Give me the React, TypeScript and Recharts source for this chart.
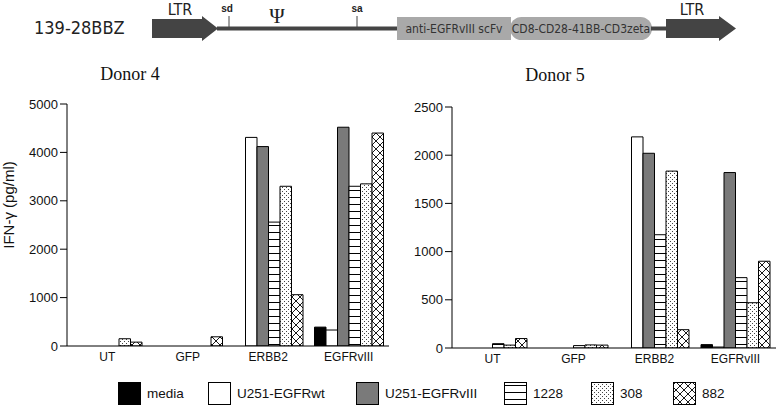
import React from 'react';
import { BarChart, Bar, XAxis, YAxis } from 'recharts';

const categories = ['UT', 'GFP', 'ERBB2', 'EGFRvIII'];
const seriesNames = ['media', 'U251-EGFRwt', 'U251-EGFRvIII', '1228', '308', '882'];
const seriesKeys = ['media', 'wt', 'viii', 's1228', 's308', 's882'];

// Donor 4
const media4 = [0, 0, 0, 390];
const wt4 = [0, 0, 4310, 330];
const viii4 = [0, 0, 4120, 4520];
const s1228_4 = [0, 0, 2560, 3300];
const s308_4 = [150, 0, 3300, 3350];
const s882_4 = [80, 190, 1060, 4400];

// Donor 5
const media5 = [0, 0, 0, 35];
const wt5 = [0, 0, 2190, 10];
const viii5 = [0, 0, 2020, 1820];
const s1228_5 = [45, 25, 1175, 730];
const s308_5 = [30, 32, 1835, 470];
const s882_5 = [98, 30, 190, 900];

const ticks4 = [0, 1000, 2000, 3000, 4000, 5000];
const ticks5 = [0, 500, 1000, 1500, 2000, 2500];

const fills = ['#000', '#fff', '#7a7a7a', 'url(#pat1228)', 'url(#pat308)', 'url(#pat882)'];

function buildRows(cols: number[][]) {
  return categories.map((cat, i) => {
    const row: Record<string, string | number> = { cat };
    seriesKeys.forEach((k, j) => {
      row[k] = cols[j][i];
    });
    return row;
  });
}

const donor4 = buildRows([media4, wt4, viii4, s1228_4, s308_4, s882_4]);
const donor5 = buildRows([media5, wt5, viii5, s1228_5, s308_5, s882_5]);

const sans = '"Liberation Sans", Arial, Helvetica, sans-serif';
const narrow = '"Liberation Sans Narrow", "DejaVu Sans Condensed", sans-serif';
const serif = '"Liberation Serif", "Times New Roman", serif';

const tickStyle = { fontSize: 13, fill: '#111', fontFamily: sans };
const catStyle = { fontSize: 12, fill: '#111', fontFamily: sans };

function Patterns() {
  return (
    <defs>
      <pattern id="pat1228" width="8" height="7" patternUnits="userSpaceOnUse">
        <rect width="8" height="7" fill="#fff" />
        <line x1="0" y1="0.5" x2="8" y2="0.5" stroke="#000" strokeWidth="1" />
      </pattern>
      <pattern id="pat308" width="4" height="4" patternUnits="userSpaceOnUse">
        <rect width="4" height="4" fill="#fff" />
        <rect x="0" y="0" width="1" height="1" fill="#444" />
        <rect x="2" y="2" width="1" height="1" fill="#444" />
      </pattern>
      <pattern id="pat882" width="8" height="8" patternUnits="userSpaceOnUse">
        <rect width="8" height="8" fill="#fff" />
        <path d="M0,0 L8,8 M8,0 L0,8" stroke="#000" strokeWidth="0.9" />
      </pattern>
    </defs>
  );
}

function Construct() {
  const dark = '#444';
  const box = '#a9a9a9';
  return (
    <svg width={777} height={50} style={{ position: 'absolute', left: 0, top: 0 }}>
      <Patterns />
      <text x={34} y={34} fontFamily={narrow} fontSize={18} fill="#222">139-28BBZ</text>
      <text x={180} y={15} fontFamily={narrow} fontSize={16} fill="#222" textAnchor="middle">LTR</text>
      <text x={692} y={15} fontFamily={narrow} fontSize={16} fill="#222" textAnchor="middle">LTR</text>
      <polygon points="152,19 202,19 202,16 218,28.5 202,41 202,38 152,38" fill={dark} />
      <rect x={217} y={26.5} width={181} height={4} fill={dark} />
      <line x1={229} y1={16} x2={229} y2={27} stroke={dark} strokeWidth={1} />
      <text x={227} y={12} fontFamily={sans} fontWeight="bold" fontSize={10} fill="#222" textAnchor="middle">sd</text>
      <text x={277} y={23} fontFamily={serif} fontSize={21} fill="#222" textAnchor="middle">Ψ</text>
      <line x1={357} y1={16} x2={357} y2={27} stroke={dark} strokeWidth={1} />
      <text x={357} y={12} fontFamily={sans} fontWeight="bold" fontSize={10} fill="#222" textAnchor="middle">sa</text>
      <rect x={397} y={17} width={114} height={23} fill={box} />
      <text x={454} y={33} fontFamily={narrow} fontSize={12} fill="#333" textAnchor="middle">anti-EGFRvIII scFv</text>
      <rect x={510} y={17} width={142} height={23} rx={11.5} ry={11.5} fill={box} />
      <text x={581} y={33} fontFamily={narrow} fontSize={12} fill="#333" textAnchor="middle">CD8-CD28-41BB-CD3zeta</text>
      <rect x={651} y={26.5} width={16} height={4} fill={dark} />
      <polygon points="666,19 719,19 719,16 736,28.5 719,41 719,38 666,38" fill={dark} />
    </svg>
  );
}

function DonorChart({ data, ticks, yMax, width, yWidth, top, right, xHeight }: any) {
  return (
    <BarChart
      width={width}
      height={285}
      data={data}
      margin={{ top, right, left: 0, bottom: 0 }}
      barGap={0}
      barSize={11.5}
    >
      <XAxis
        dataKey="cat"
        height={xHeight}
        tickLine={false}
        tickSize={4}
        tickMargin={2}
        axisLine={{ stroke: '#000', strokeWidth: 1 }}
        tick={catStyle}
        interval={0}
      />
      <YAxis
        width={yWidth}
        domain={[0, yMax]}
        ticks={ticks}
        tickSize={7}
        tickMargin={2}
        allowDataOverflow
        axisLine={{ stroke: '#000', strokeWidth: 1 }}
        tickLine={{ stroke: '#000', strokeWidth: 1 }}
        tick={tickStyle}
        interval={0}
      />
      {seriesKeys.map((k, j) => (
        <Bar
          key={k}
          dataKey={k}
          name={seriesNames[j]}
          fill={fills[j]}
          stroke="#000"
          strokeWidth={1}
          isAnimationActive={false}
        />
      ))}
    </BarChart>
  );
}

const legendX = [118, 208, 356, 504, 591, 673];

function Legend() {
  return (
    <svg width={777} height={30} style={{ position: 'absolute', left: 0, top: 378 }}>
      {seriesNames.map((name, j) => (
        <g key={name}>
          <rect x={legendX[j] + 0.5} y={4.5} width={22} height={22} fill={fills[j]} stroke="#000" strokeWidth={1} />
          <text x={legendX[j] + 29} y={20} fontFamily={sans} fontSize={13.5} fill="#111">
            {name}
          </text>
        </g>
      ))}
    </svg>
  );
}

export default function App() {
  return (
    <div
      style={{
        position: 'absolute',
        left: 0,
        top: 0,
        width: 777,
        height: 408,
        background: '#fff',
        overflow: 'hidden',
      }}
    >
      <Construct />
      <div style={{ position: 'absolute', left: 0, top: 85 }}>
        <DonorChart data={donor4} ticks={ticks4} yMax={5000} width={395} yWidth={67} top={19} right={6} xHeight={24} />
      </div>
      <div style={{ position: 'absolute', left: 390, top: 85 }}>
        <DonorChart data={donor5} ticks={ticks5} yMax={2500} width={387} yWidth={62} top={22} right={1} xHeight={22} />
      </div>
      <svg width={777} height={300} style={{ position: 'absolute', left: 0, top: 50, pointerEvents: 'none' }}>
        <text x={130} y={30} fontFamily={serif} fontSize={18} fill="#111" textAnchor="middle">Donor 4</text>
        <text x={555} y={31} fontFamily={serif} fontSize={18} fill="#111" textAnchor="middle">Donor 5</text>
        <text
          transform="translate(14,155) rotate(-90)"
          fontFamily={sans}
          fontSize={15}
          fill="#111"
          textAnchor="middle"
        >
          IFN-γ (pg/ml)
        </text>
      </svg>
      <Legend />
    </div>
  );
}
